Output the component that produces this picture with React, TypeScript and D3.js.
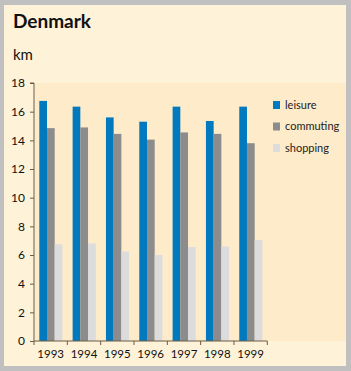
import React, { useEffect, useRef } from 'react';
import * as d3 from 'd3';

const years = ['1993', '1994', '1995', '1996', '1997', '1998', '1999'];
const seriesNames = ['leisure', 'commuting', 'shopping'];
const leisure = [16.75, 16.35, 15.6, 15.3, 16.35, 15.35, 16.35];
const commuting = [14.85, 14.9, 14.45, 14.05, 14.55, 14.45, 13.8];
const shopping = [6.75, 6.8, 6.25, 6.0, 6.55, 6.6, 7.05];
const yTicks = [0, 2, 4, 6, 8, 10, 12, 14, 16, 18];

const App = () => {
  const svgRef = useRef<SVGSVGElement>(null);

  useEffect(() => {
    const W = 351;
    const H = 371;
    const font = 'Lato, "Noto Sans", sans-serif';
    const axisColor = '#6b5d45';

    const svg = d3.select(svgRef.current).attr('width', W).attr('height', H);
    svg.selectAll('*').remove();

    // outer frame and panel
    svg.append('rect').attr('width', W).attr('height', H).attr('fill', '#c0c0c0');
    svg.append('rect').attr('x', 4).attr('y', 5).attr('width', 342).attr('height', 361).attr('fill', '#fef2d8');

    svg.append('text').attr('x', 13).attr('y', 28)
      .attr('font-family', font).attr('font-weight', 'bold').attr('font-size', 19)
      .attr('fill', '#111').text('Denmark');
    svg.append('text').attr('x', 13).attr('y', 60)
      .attr('font-family', font).attr('font-size', 15)
      .attr('fill', '#111').text('km');

    const margin = { left: 34, top: 83, bottom: 341 };
    const x0 = d3.scaleBand().domain(years).range([margin.left, margin.left + 233.3]);
    const step = x0.bandwidth();
    const x1 = d3.scaleBand().domain(seriesNames).range([5.3, 5.3 + 23.1]);
    const y = d3.scaleLinear().domain([0, 18]).range([margin.bottom, margin.top]);
    const color = d3.scaleOrdinal<string>().domain(seriesNames).range(['#0079bf', '#8c8c8c', '#dcdcdc']);

    // plot background
    svg.append('rect').attr('x', margin.left + 1).attr('y', margin.top)
      .attr('width', 346 - margin.left - 1).attr('height', margin.bottom - margin.top)
      .attr('fill', '#feebc9');

    const data = years.map((yr, i) => ({ yr, values: [leisure[i], commuting[i], shopping[i]] }));

    svg.append('g').selectAll('g').data(data).enter().append('g')
      .attr('transform', d => `translate(${x0(d.yr)},0)`)
      .selectAll('rect')
      .data(d => seriesNames.map((key, k) => ({ key, value: d.values[k] })))
      .enter().append('rect')
      .attr('x', d => x1(d.key)!)
      .attr('y', d => y(d.value))
      .attr('width', x1.bandwidth())
      .attr('height', d => y(0) - y(d.value))
      .attr('fill', d => color(d.key));

    // y axis
    const yAxis = svg.append('g').attr('transform', `translate(${margin.left},0)`)
      .call(d3.axisLeft(y).tickValues(yTicks).tickSize(4).tickPadding(5).tickFormat(d3.format('d')));
    yAxis.select('.domain').attr('stroke', axisColor).attr('d', `M-4,${y(18)}H0V${y(0)}`);
    yAxis.selectAll('.tick line').attr('stroke', axisColor);
    yAxis.selectAll('.tick text').attr('font-family', font).attr('font-size', 12).attr('fill', '#111');

    // x axis
    const xg = svg.append('g').attr('transform', `translate(0,${margin.bottom})`);
    xg.append('line').attr('x1', margin.left).attr('x2', margin.left + step * years.length)
      .attr('stroke', axisColor);
    xg.selectAll('.tk').data(d3.range(years.length + 1)).enter().append('line')
      .attr('x1', i => margin.left + i * step).attr('x2', i => margin.left + i * step)
      .attr('y1', 0).attr('y2', 4).attr('stroke', axisColor);
    xg.selectAll('.lbl').data(years).enter().append('text')
      .attr('x', d => x0(d)! + step / 2).attr('y', 17)
      .attr('text-anchor', 'middle')
      .attr('font-family', font).attr('font-size', 11.5).attr('fill', '#111')
      .text(d => d);

    // legend
    const legend = svg.append('g').attr('transform', 'translate(273,101)');
    seriesNames.forEach((name, i) => {
      const g = legend.append('g').attr('transform', `translate(0,${i * 21.5})`);
      g.append('rect').attr('width', 7).attr('height', 8).attr('fill', color(name));
      g.append('text').attr('x', 12).attr('y', 7.5)
        .attr('font-family', font).attr('font-size', 11).attr('fill', '#222').text(name);
    });
  }, []);

  return <svg ref={svgRef} style={{ position: 'absolute', left: 0, top: 0 }}></svg>;
};

export default App;
